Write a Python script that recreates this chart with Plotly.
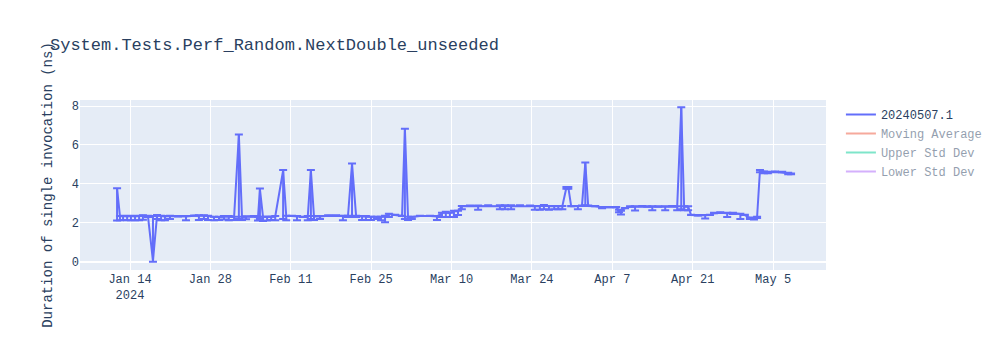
import plotly.graph_objects as go

run_times = [
    "2024-01-11 18:00", "2024-01-12 06:00", "2024-01-12 19:00", "2024-01-13 12:00", "2024-01-14 04:00",
    "2024-01-14 21:00", "2024-01-15 14:00", "2024-01-16 06:00", "2024-01-17 03:00", "2024-01-18 00:00",
    "2024-01-18 17:00", "2024-01-19 10:00", "2024-01-20 02:00", "2024-01-20 23:00", "2024-01-22 09:00",
    "2024-01-23 18:00", "2024-01-25 04:00", "2024-01-26 00:00", "2024-01-26 21:00", "2024-01-27 14:00",
    "2024-01-28 15:00", "2024-01-29 12:00", "2024-01-30 09:00", "2024-01-31 05:00", "2024-02-01 03:00",
    "2024-02-01 23:00", "2024-02-02 12:00", "2024-02-03 05:00", "2024-02-04 14:00", "2024-02-05 07:00",
    "2024-02-05 15:00", "2024-02-06 04:00", "2024-02-06 21:00", "2024-02-07 14:00", "2024-02-08 07:00",
    "2024-02-09 16:00", "2024-02-10 05:00", "2024-02-11 05:00", "2024-02-12 02:00", "2024-02-13 03:00",
    "2024-02-13 23:00", "2024-02-14 12:00", "2024-02-15 01:00", "2024-02-16 02:00", "2024-02-17 12:00",
    "2024-02-18 21:00", "2024-02-20 02:00", "2024-02-20 23:00", "2024-02-21 16:00", "2024-02-22 09:00",
    "2024-02-23 10:00", "2024-02-24 02:00", "2024-02-24 23:00", "2024-02-26 00:00", "2024-02-26 17:00",
    "2024-02-27 10:00", "2024-02-28 02:00", "2024-02-29 04:00", "2024-03-01 09:00", "2024-03-01 21:00",
    "2024-03-02 10:00", "2024-03-03 02:00", "2024-03-04 12:00", "2024-03-06 06:00", "2024-03-07 11:00",
    "2024-03-08 08:00", "2024-03-09 00:00", "2024-03-09 17:00", "2024-03-10 10:00", "2024-03-11 03:00",
    "2024-03-11 19:00", "2024-03-13 05:00", "2024-03-14 15:00", "2024-03-16 09:00", "2024-03-18 10:00",
    "2024-03-19 07:00", "2024-03-20 09:00", "2024-03-21 22:00", "2024-03-23 16:00", "2024-03-24 12:00",
    "2024-03-25 09:00", "2024-03-26 02:00", "2024-03-26 23:00", "2024-03-27 21:00", "2024-03-28 14:00",
    "2024-03-29 07:00", "2024-03-30 00:00", "2024-03-30 08:00", "2024-03-30 20:00", "2024-04-01 00:00",
    "2024-04-01 17:00", "2024-04-02 07:00", "2024-04-02 19:00", "2024-04-04 00:00", "2024-04-05 05:00",
    "2024-04-06 14:00", "2024-04-07 16:00", "2024-04-08 04:00", "2024-04-08 12:00", "2024-04-09 05:00",
    "2024-04-10 02:00", "2024-04-10 23:00", "2024-04-12 05:00", "2024-04-13 02:00", "2024-04-13 23:00",
    "2024-04-15 00:00", "2024-04-16 05:00", "2024-04-17 10:00", "2024-04-18 07:00", "2024-04-19 00:00",
    "2024-04-19 12:00", "2024-04-20 05:00", "2024-04-20 17:00", "2024-04-21 22:00", "2024-04-23 04:00",
    "2024-04-24 00:00", "2024-04-24 17:00", "2024-04-25 19:00", "2024-04-27 00:00", "2024-04-28 00:00",
    "2024-04-29 07:00", "2024-04-30 02:00", "2024-04-30 23:00", "2024-05-01 16:00", "2024-05-02 05:00",
    "2024-05-02 17:00", "2024-05-03 10:00", "2024-05-04 02:00", "2024-05-05 08:00", "2024-05-06 14:00",
    "2024-05-07 15:00", "2024-05-08 03:00",
]

duration_ns = [
    3.76, 2.33, 2.35, 2.33, 2.35, 2.33, 2.35, 2.37, 2.35, 0.05,
    2.38, 2.35, 2.33, 2.35, 2.33, 2.33, 2.36, 2.37, 2.37, 2.35,
    2.30, 2.30, 2.33, 2.33, 2.30, 6.52, 2.30, 2.32, 2.33, 2.30,
    3.74, 2.30, 2.30, 2.30, 2.33, 4.70, 2.35, 2.35, 2.33, 2.30,
    2.33, 4.70, 2.33, 2.33, 2.37, 2.37, 2.35, 2.35, 5.03, 2.35,
    2.33, 2.33, 2.30, 2.30, 2.30, 2.35, 2.45, 2.40, 2.35, 6.82,
    2.30, 2.30, 2.35, 2.35, 2.33, 2.50, 2.55, 2.50, 2.60, 2.60,
    2.85, 2.87, 2.87, 2.88, 2.88, 2.88, 2.88, 2.88, 2.87, 2.85,
    2.85, 2.90, 2.85, 2.85, 2.85, 2.85, 3.82, 3.82, 2.85, 2.85,
    2.87, 5.08, 2.87, 2.85, 2.80, 2.80, 2.80, 2.65, 2.60, 2.75,
    2.83, 2.83, 2.85, 2.83, 2.83, 2.83, 2.83, 2.85, 2.83, 7.92,
    2.83, 2.83, 2.40, 2.38, 2.38, 2.40, 2.50, 2.52, 2.50, 2.50,
    2.45, 2.40, 2.25, 2.20, 2.30, 4.70, 4.62, 4.60, 4.62, 4.60,
    4.55, 4.52,
]

lower_bound_ns = [
    2.12, 2.13, 2.15, 2.13, 2.14, 2.13, 2.14, 2.16, 2.30, 0.00,
    2.20, 2.13, 2.13, 2.20, 2.33, 2.13, 2.36, 2.15, 2.20, 2.15,
    2.13, 2.15, 2.17, 2.13, 2.15, 2.20, 2.15, 2.18, 2.33, 2.12,
    2.20, 2.10, 2.12, 2.15, 2.13, 2.20, 2.13, 2.35, 2.13, 2.30,
    2.13, 2.20, 2.15, 2.20, 2.37, 2.37, 2.13, 2.30, 2.30, 2.30,
    2.15, 2.15, 2.15, 2.20, 2.13, 2.03, 2.30, 2.40, 2.35, 2.20,
    2.15, 2.20, 2.35, 2.35, 2.15, 2.30, 2.30, 2.30, 2.30, 2.40,
    2.70, 2.87, 2.67, 2.88, 2.70, 2.70, 2.70, 2.88, 2.87, 2.67,
    2.67, 2.70, 2.67, 2.70, 2.70, 2.70, 3.75, 3.75, 2.85, 2.70,
    2.87, 2.90, 2.87, 2.85, 2.75, 2.80, 2.80, 2.55, 2.43, 2.75,
    2.83, 2.63, 2.85, 2.83, 2.65, 2.83, 2.65, 2.85, 2.65, 2.70,
    2.65, 2.65, 2.40, 2.38, 2.22, 2.40, 2.50, 2.52, 2.30, 2.45,
    2.20, 2.40, 2.20, 2.17, 2.25, 4.60, 4.55, 4.55, 4.60, 4.60,
    4.50, 4.50,
]

upper_bound_ns = [
    3.78, 2.35, 2.37, 2.35, 2.37, 2.35, 2.37, 2.39, 2.37, 2.35,
    2.40, 2.37, 2.35, 2.37, 2.35, 2.35, 2.38, 2.39, 2.39, 2.37,
    2.32, 2.32, 2.35, 2.35, 2.32, 6.54, 2.32, 2.34, 2.35, 2.32,
    3.76, 2.32, 2.32, 2.32, 2.35, 4.72, 2.37, 2.37, 2.35, 2.32,
    2.35, 4.72, 2.35, 2.35, 2.39, 2.39, 2.37, 2.37, 5.05, 2.37,
    2.35, 2.35, 2.32, 2.32, 2.32, 2.37, 2.47, 2.42, 2.37, 6.84,
    2.32, 2.32, 2.37, 2.37, 2.35, 2.52, 2.57, 2.52, 2.62, 2.62,
    2.87, 2.89, 2.89, 2.90, 2.90, 2.90, 2.90, 2.90, 2.89, 2.87,
    2.87, 2.92, 2.87, 2.87, 2.87, 2.87, 3.84, 3.84, 2.87, 2.87,
    2.89, 5.10, 2.89, 2.87, 2.82, 2.82, 2.82, 2.67, 2.62, 2.77,
    2.85, 2.85, 2.87, 2.85, 2.85, 2.85, 2.85, 2.87, 2.85, 7.94,
    2.85, 2.85, 2.42, 2.40, 2.40, 2.42, 2.52, 2.54, 2.52, 2.52,
    2.47, 2.42, 2.27, 2.22, 2.32, 4.72, 4.64, 4.62, 4.64, 4.62,
    4.57, 4.54,
]

err_plus = [max(u - v, 0) for u, v in zip(upper_bound_ns, duration_ns)]
err_minus = [max(v - lo, 0) for v, lo in zip(duration_ns, lower_bound_ns)]

series_name = "20240507.1"
hidden_series = ["Moving Average", "Upper Std Dev", "Lower Std Dev"]
chart_title = "System.Tests.Perf_Random.NextDouble_unseeded"
y_title = "Duration of single invocation (ns)"

fig = go.Figure()
fig.add_trace(go.Scatter(
    x=run_times, y=duration_ns, mode="lines", name=series_name,
    error_y=dict(type="data", symmetric=False, array=err_plus, arrayminus=err_minus),
))
for nm in hidden_series:
    fig.add_trace(go.Scatter(x=[None], y=[None], mode="lines", name=nm, visible="legendonly"))

fig.update_layout(
    width=1000, height=350,
    title=dict(text=chart_title),
    font=dict(family="Courier New, Liberation Mono, monospace"),
    margin=dict(l=80, r=174, t=100, b=80),
    xaxis=dict(range=["2024-01-05 07:00", "2024-05-14 05:00"]),
    yaxis=dict(title=dict(text=y_title), range=[-0.42, 8.31]),
)

fig.write_html("out.html")
